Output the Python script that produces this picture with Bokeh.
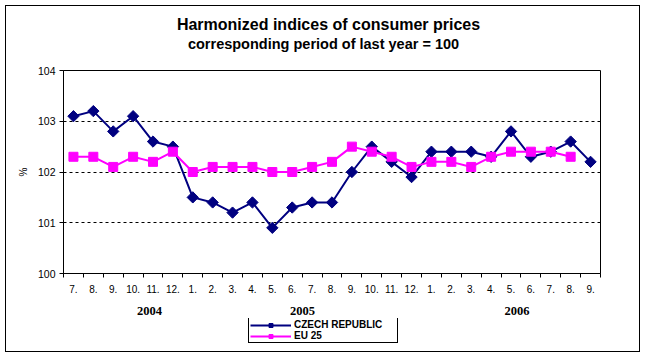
import math
from bokeh.plotting import figure
from bokeh.layouts import column
from bokeh.models import (FixedTicker, Legend, LegendItem, Label, LinearAxis, Range1d)
from bokeh.embed import file_html
from bokeh.resources import INLINE

# ---------------- data ----------------
months = ["7.", "8.", "9.", "10.", "11.", "12.",
          "1.", "2.", "3.", "4.", "5.", "6.", "7.", "8.", "9.", "10.", "11.", "12.",
          "1.", "2.", "3.", "4.", "5.", "6.", "7.", "8.", "9."]
years = ["2004", "2005", "2006"]
czech = [103.1, 103.2, 102.8, 103.1, 102.6, 102.5,
         101.5, 101.4, 101.2, 101.4, 100.9, 101.3, 101.4, 101.4, 102.0, 102.5, 102.2, 101.9,
         102.4, 102.4, 102.4, 102.3, 102.8, 102.3, 102.4, 102.6, 102.2]
eu25 = [102.3, 102.3, 102.1, 102.3, 102.2, 102.4,
        102.0, 102.1, 102.1, 102.1, 102.0, 102.0, 102.1, 102.2, 102.5, 102.4, 102.3, 102.1,
        102.2, 102.2, 102.1, 102.3, 102.4, 102.4, 102.4, 102.3]
y_ticks = [100, 101, 102, 103, 104]
series_names = ["CZECH REPUBLIC", "EU 25"]
title_text = "Harmonized indices of consumer prices"
subtitle_text = "corresponding period of last year = 100"

# ---------------- layout constants ----------------
W, H = 645, 357
TOP_H = 65                          # title strip height
MAIN_H = 253                        # chart strip height (65..318)
LEG_H = H - TOP_H - MAIN_H          # legend strip height (318..357)
FL, FR, FT, FB = 63, 600, 70, 273   # plot frame edges (page px)
LEG_L, LEG_T = 248, 321             # legend box top-left (page px)
year_label_x = [3.82, 11.52, 22.3]  # where the year captions sit (category units)
NAVY = "#000080"
MAGENTA = "#FF00FF"
FONT = "Liberation Sans"

xs = list(range(len(months)))


def strip(height):
    f = figure(frame_width=FR - FL, frame_height=height,
               min_border_left=FL, min_border_right=W - FR,
               min_border_top=0, min_border_bottom=0,
               output_backend="svg", toolbar_location=None,
               x_range=Range1d(0, 1), y_range=Range1d(0, 1),
               x_axis_type=None, y_axis_type=None,
               background_fill_alpha=0, border_fill_alpha=0)
    f.grid.visible = False
    f.outline_line_alpha = 0
    return f


# ---------------- title strip ----------------
tf = strip(TOP_H)
tf.add_layout(Label(x=328 - FL, y=TOP_H - 24, x_units="screen", y_units="screen",
                    text=title_text, text_font=FONT, text_font_size="16px",
                    text_font_style="bold", text_color="black",
                    text_align="center", text_baseline="alphabetic"))
tf.add_layout(Label(x=323 - FL, y=TOP_H - 43, x_units="screen", y_units="screen",
                    text=subtitle_text, text_font=FONT, text_font_size="14.5px",
                    text_font_style="bold", text_color="black",
                    text_align="center", text_baseline="alphabetic"))

# ---------------- main chart ----------------
p = figure(frame_width=FR - FL, frame_height=FB - FT,
           output_backend="svg", toolbar_location=None,
           x_range=Range1d(-0.5, len(months) - 0.5), y_range=Range1d(100, 104),
           min_border_left=FL, min_border_right=W - FR,
           min_border_top=FT - TOP_H, min_border_bottom=TOP_H + MAIN_H - FB,
           background_fill_color="white", border_fill_alpha=0)

p.xgrid.visible = False
p.ygrid.ticker = FixedTicker(ticks=y_ticks)
p.ygrid.grid_line_color = "black"
p.ygrid.grid_line_dash = "3 3"
p.ygrid.grid_line_width = 1

p.outline_line_color = "black"
p.outline_line_width = 1
p.outline_line_alpha = 1

# x axis: labels at category centres, tick marks at category boundaries
xa = p.xaxis[0]
xa.ticker = FixedTicker(ticks=xs, minor_ticks=[i - 0.5 for i in range(len(months) + 1)])
xa.major_label_overrides = {i: m for i, m in enumerate(months)}
xa.major_tick_out = 0
xa.major_tick_in = 0
xa.minor_tick_out = 4
xa.minor_tick_in = 0
xa.minor_tick_line_color = "black"
xa.axis_line_color = "black"
xa.major_label_text_font = FONT
xa.major_label_text_font_size = "10px"
xa.major_label_text_color = "black"
xa.major_label_standoff = 7

# year captions as a second (line-less) axis
year_axis = LinearAxis(ticker=FixedTicker(ticks=year_label_x),
                       major_label_overrides={v: t for v, t in zip(year_label_x, years)},
                       axis_line_alpha=0, major_tick_out=0, major_tick_in=0,
                       minor_tick_out=0, minor_tick_in=0,
                       major_label_text_font="Liberation Serif",
                       major_label_text_font_size="12.5px",
                       major_label_text_font_style="bold",
                       major_label_text_color="black",
                       major_label_standoff=11)
p.add_layout(year_axis, "below")

ya = p.yaxis[0]
ya.ticker = FixedTicker(ticks=y_ticks)
ya.major_tick_out = 4
ya.major_tick_in = 0
ya.major_tick_line_color = "black"
ya.axis_line_color = "black"
ya.major_label_text_font = FONT
ya.major_label_text_font_size = "10.5px"
ya.major_label_text_color = "black"
ya.major_label_standoff = 4
ya.axis_label = "%"
ya.axis_label_text_font = FONT
ya.axis_label_text_font_size = "10px"
ya.axis_label_text_font_style = "normal"
ya.axis_label_text_color = "black"
ya.axis_label_standoff = 6

# series
p.line(xs[:len(czech)], czech, line_color=NAVY, line_width=2)
p.scatter(xs[:len(czech)], czech, marker="square", angle=math.pi / 4, size=8,
          fill_color=NAVY, line_color=NAVY)
p.line(xs[:len(eu25)], eu25, line_color=MAGENTA, line_width=2)
p.scatter(xs[:len(eu25)], eu25, marker="square", size=9,
          fill_color=MAGENTA, line_color=MAGENTA)

# ---------------- legend strip ----------------
lf = strip(LEG_H)
nan = float("nan")
l1 = lf.line([nan], [nan], line_color=NAVY, line_width=2)
m1 = lf.scatter([nan], [nan], marker="square", angle=math.pi / 4, size=4.5,
                fill_color=NAVY, line_color=NAVY)
l2 = lf.line([nan], [nan], line_color=MAGENTA, line_width=2)
m2 = lf.scatter([nan], [nan], marker="square", size=5,
                fill_color=MAGENTA, line_color=MAGENTA)

LEG_PAD, GLYPH_W, ROW_H = 1, 41, 10
legend_h = 2 * LEG_PAD + 2 * ROW_H
legend = Legend(items=[LegendItem(label=series_names[0], renderers=[l1, m1]),
                       LegendItem(label=series_names[1], renderers=[l2, m2])],
                location=(LEG_L - FL, (H - LEG_T) - legend_h),
                orientation="vertical",
                padding=LEG_PAD, spacing=0, margin=0,
                glyph_width=GLYPH_W, glyph_height=ROW_H, label_height=ROW_H,
                label_width=102, label_standoff=3,
                label_text_font=FONT, label_text_font_size="10px",
                label_text_font_style="bold", label_text_color="black",
                border_line_color="black", border_line_width=1, border_line_alpha=1,
                background_fill_color="white", background_fill_alpha=1)
lf.add_layout(legend, "center")

layout = column(tf, p, lf, spacing=0)
layout.styles = {"outline": "1px solid black", "outline-offset": "-6px"}

open("out.html", "w").write(file_html(layout, INLINE))
